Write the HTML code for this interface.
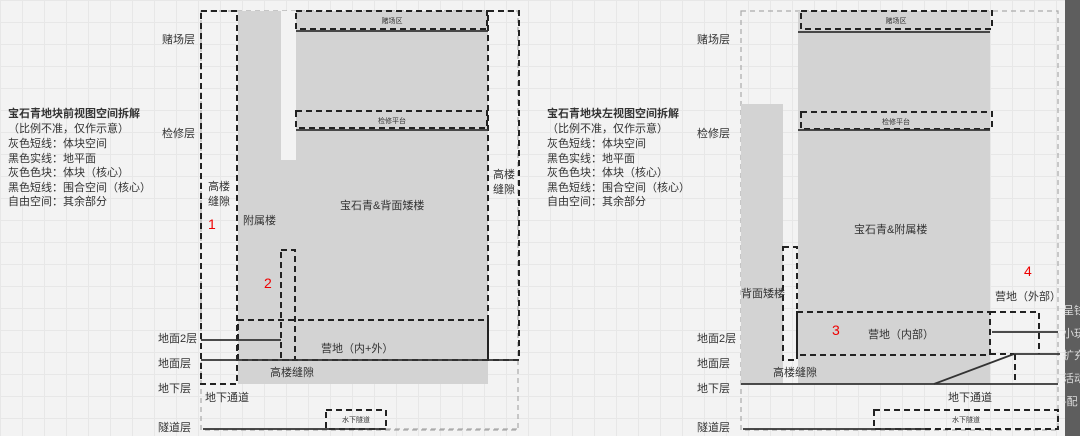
<!DOCTYPE html>
<html><head><meta charset="utf-8"><style>
html,body{margin:0;padding:0;}
body{width:1080px;height:436px;overflow:hidden;background:#f3f3f3;
background-image:linear-gradient(#e7e7e7 1px,transparent 1px),linear-gradient(90deg,#e7e7e7 1px,transparent 1px);background-size:22px 22px;}
svg{position:absolute;left:0;top:0;}
text{font-family:"Liberation Sans","Noto Sans CJK SC",sans-serif;fill:#333;}
</style></head><body>
<svg width="1080" height="436" viewBox="0 0 1080 436">
<g font-size="11">
<!-- left text -->
<text x="8" y="117" font-weight="bold" fill="#222">宝石青地块前视图空间拆解</text>
<text x="8" y="132">（比例不准，仅作示意）</text>
<text x="8" y="147">灰色短线：体块空间</text>
<text x="8" y="162">黑色实线：地平面</text>
<text x="8" y="176">灰色色块：体块（核心）</text>
<text x="8" y="191">黑色短线：围合空间（核心）</text>
<text x="8" y="205">自由空间：其余部分</text>
<text x="547" y="117" font-weight="bold" fill="#222">宝石青地块左视图空间拆解</text>
<text x="547" y="132">（比例不准，仅作示意）</text>
<text x="547" y="147">灰色短线：体块空间</text>
<text x="547" y="162">黑色实线：地平面</text>
<text x="547" y="176">灰色色块：体块（核心）</text>
<text x="547" y="191">黑色短线：围合空间（核心）</text>
<text x="547" y="205">自由空间：其余部分</text>
</g>

<!-- LEFT PANEL -->
<rect x="201" y="11" width="317" height="419" fill="none" stroke="#aaa" stroke-width="1.2" stroke-dasharray="5,4"/>
<rect x="238" y="11" width="250" height="373" fill="#d3d3d3"/>
<rect x="281" y="11" width="15" height="149" fill="#f3f3f3"/>
<g fill="none" stroke="#222" stroke-width="2" stroke-dasharray="6,4">
<rect x="201" y="11" width="36" height="373"/>
<rect x="296" y="11" width="191" height="18"/>
<rect x="296" y="111" width="191" height="17"/>
<rect x="488" y="11" width="31" height="349"/>
<rect x="281" y="250" width="14" height="110"/>
<rect x="238" y="320" width="250" height="40"/>
<rect x="326" y="410" width="60" height="19"/>
</g>
<g stroke="#333" stroke-width="1.8">
<line x1="296" y1="31" x2="488" y2="31"/>
<line x1="296" y1="130" x2="488" y2="130"/>
<line x1="201" y1="340" x2="281" y2="340"/>
<line x1="201" y1="360" x2="519" y2="360"/>
<line x1="203" y1="429" x2="386" y2="429"/>
</g>
<line x1="386" y1="429" x2="518" y2="429" stroke="#aaa" stroke-width="1.2" stroke-dasharray="5,4"/>
<g font-size="11">
<text x="162" y="43">赌场层</text>
<text x="162" y="137">检修层</text>
<text x="158" y="342">地面2层</text>
<text x="158" y="367">地面层</text>
<text x="158" y="392">地下层</text>
<text x="158" y="431">隧道层</text>
<text x="208" y="190">高楼</text>
<text x="208" y="205">缝隙</text>
<text x="493" y="178">高楼</text>
<text x="493" y="193">缝隙</text>
<text x="243" y="224">附属楼</text>
<text x="340" y="209">宝石青&amp;背面矮楼</text>
<text x="321" y="352">营地（内+外）</text>
<text x="270" y="376">高楼缝隙</text>
<text x="205" y="401">地下通道</text>
<text x="392" y="23" font-size="7" text-anchor="middle">赌场区</text>
<text x="392" y="123" font-size="7" text-anchor="middle">检修平台</text>
<text x="356" y="422" font-size="7" text-anchor="middle">水下隧道</text>
</g>
<text x="208" y="229" font-size="14" style="fill:#e00">1</text>
<text x="264" y="288" font-size="14" style="fill:#e00">2</text>

<!-- RIGHT PANEL -->
<rect x="741" y="11" width="317" height="419" fill="none" stroke="#aaa" stroke-width="1.2" stroke-dasharray="5,4"/>
<rect x="798" y="11" width="192" height="373" fill="#d3d3d3"/>
<rect x="741" y="104" width="42" height="280" fill="#d3d3d3"/>
<g fill="none" stroke="#222" stroke-width="2" stroke-dasharray="6,4">
<rect x="801" y="11" width="191" height="18"/>
<rect x="801" y="112" width="191" height="17"/>
<rect x="783" y="247" width="14" height="113"/>
<rect x="797" y="312" width="193" height="43"/>
<rect x="874" y="410" width="184" height="19"/>
<polyline points="990,312 1039,312 1039,354"/>
<line x1="990" y1="354" x2="1014" y2="354"/>
<line x1="1015" y1="354" x2="1015" y2="384"/>
</g>
<g stroke="#333" stroke-width="1.8" fill="none">
<line x1="798" y1="32" x2="990" y2="32"/>
<line x1="798" y1="130" x2="990" y2="130"/>
<line x1="992" y1="332" x2="1058" y2="332"/>
<line x1="1014" y1="354" x2="1060" y2="354"/>
<line x1="934" y1="384" x2="1014" y2="354"/>
<line x1="741" y1="384" x2="1058" y2="384"/>
<line x1="743" y1="429" x2="925" y2="429"/>
</g>
<g font-size="11">
<text x="697" y="43">赌场层</text>
<text x="697" y="137">检修层</text>
<text x="697" y="342">地面2层</text>
<text x="697" y="367">地面层</text>
<text x="697" y="392">地下层</text>
<text x="697" y="431">隧道层</text>
<text x="741" y="297">背面矮楼</text>
<text x="773" y="376">高楼缝隙</text>
<text x="854" y="233">宝石青&amp;附属楼</text>
<text x="868" y="338">营地（内部）</text>
<text x="995" y="300">营地（外部）</text>
<text x="948" y="401">地下通道</text>
<text x="896" y="23" font-size="7" text-anchor="middle">赌场区</text>
<text x="896" y="124" font-size="7" text-anchor="middle">检修平台</text>
<text x="966" y="422" font-size="7" text-anchor="middle">水下隧道</text>
</g>
<text x="832" y="335" font-size="14" style="fill:#e00">3</text>
<text x="1024" y="276" font-size="14" style="fill:#e00">4</text>

<!-- right dark strip -->
<rect x="1065" y="0" width="15" height="436" fill="#5e5e5e"/>
<g font-size="11">
<text x="1063" y="314" style="fill:#ddd">呈钱</text>
<text x="1063" y="337" style="fill:#ddd">小玩</text>
<text x="1063" y="359" style="fill:#ddd">扩充</text>
<text x="1063" y="382" style="fill:#ddd">活动</text>
<text x="1063" y="405" style="fill:#ddd">-配</text>
</g>
</svg>
</body></html>
